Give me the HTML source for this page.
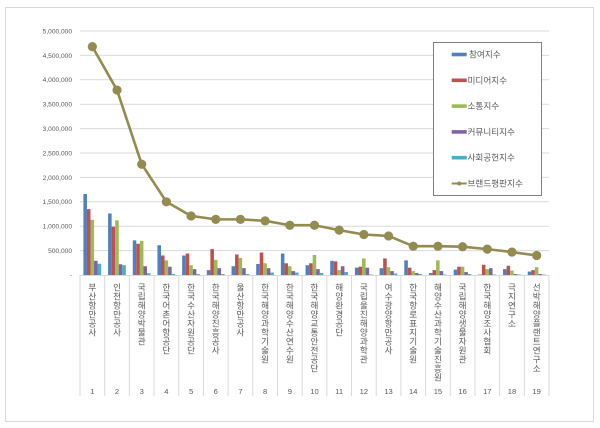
<!DOCTYPE html>
<html><head><meta charset="utf-8"><style>
html,body{margin:0;padding:0;background:#fff;}
svg{display:block;}
text{font-family:"Liberation Sans","Noto Sans CJK KR",sans-serif;fill:#595959;}
</style></head><body>
<svg id="c" width="600" height="428" viewBox="0 0 600 428" xmlns="http://www.w3.org/2000/svg">
<rect x="0" y="0" width="600" height="428" fill="#fff"/>
<rect x="5.5" y="7.5" width="588" height="414" fill="#fff" stroke="#D9D9D9" stroke-width="1"/>
<g id="grid"></g>
<g id="bars"></g>
<g id="xaxis"></g>
<g id="line"></g>
<g id="legend"></g>
</svg>
<script>
(function(){
var NS="http://www.w3.org/2000/svg";
function el(tag,attrs,parent,txt){var e=document.createElementNS(NS,tag);for(var k in attrs)e.setAttribute(k,attrs[k]);if(txt!==undefined)e.textContent=txt;parent.appendChild(e);return e;}
var X0=80,X1=549,Y0=275,PX=24.4/500000;
var N=19,CW=(X1-X0)/N;
function yv(v){return Y0-v*1e6*PX;}
var grid=document.getElementById('grid');
var labs=["-","500,000","1,000,000","1,500,000","2,000,000","2,500,000","3,000,000","3,500,000","4,000,000","4,500,000","5,000,000"];
for(var k=0;k<=10;k++){
  var y=Y0-k*24.4;
  if(k>0) el('line',{x1:X0,x2:X1,y1:y,y2:y,stroke:'#D9D9D9','stroke-width':1},grid);
  el('text',{x:72,y:y+2.4,'text-anchor':'end','font-size':'6.6'},grid,labs[k]);
}
var data=[
 [1.66,1.26,0.71,0.61,0.40,0.10,0.18,0.225,0.44,0.20,0.29,0.15,0.14,0.30,0.04,0.11,0.01,0.12,0.07],
 [1.35,0.99,0.64,0.40,0.44,0.53,0.42,0.46,0.24,0.24,0.28,0.17,0.34,0.15,0.10,0.17,0.21,0.19,0.10],
 [1.13,1.12,0.70,0.30,0.20,0.31,0.35,0.24,0.18,0.41,0.10,0.34,0.16,0.08,0.30,0.17,0.12,0.09,0.16],
 [0.29,0.22,0.18,0.17,0.12,0.14,0.14,0.14,0.08,0.12,0.18,0.15,0.08,0.04,0.08,0.06,0.14,0.02,0.02],
 [0.23,0.20,0.035,0.02,0.02,0.02,0.02,0.05,0.05,0.04,0.06,0.01,0.03,0.02,0.01,0.02,0.01,0.01,0.01]
];
var cols=['#4F81BD','#C0504D','#9BBB59','#8064A2','#4BACC6'];
var bars=document.getElementById('bars');
var BW=3.55;
for(var i=0;i<N;i++){
  var cs=X0+i*CW;
  for(var s=0;s<5;s++){
    var v=data[s][i];var y=yv(v);
    el('rect',{x:(cs+3.4+s*BW).toFixed(2),y:y.toFixed(2),width:BW,height:(Y0-y).toFixed(2),fill:cols[s]},bars);
  }
}
var xa=document.getElementById('xaxis');
el('line',{x1:X0,x2:X1,y1:Y0+0.5,y2:Y0+0.5,stroke:'#D9D9D9','stroke-width':1},xa);
for(var i=0;i<=N;i++){
  var x=X0+i*CW;
  el('line',{x1:x,x2:x,y1:Y0,y2:396,stroke:'#D9D9D9','stroke-width':1},xa);
}
var names=["부산항만공사","인천항만공사","국립해양박물관","한국어촌어항공단","한국수산자원공단","한국해양진흥공사","울산항만공사","한국해양과학기술원","한국해양수산연수원","한국해양교통안전공단","해양환경공단","국립울진해양과학관","여수광양항만공사","한국항로표지기술원","해양수산과학기술진흥원","국립해양생물자원관","한국해양조사협회","극지연구소","선박해양플랜트연구소"];
for(var i=0;i<N;i++){
  var cx=X0+(i+0.5)*CW;
  var t=el('text',{'text-anchor':'middle','font-size':'8.6'},xa);
  var chars=Array.from(names[i]);
  for(var j=0;j<chars.length;j++){
    el('tspan',{x:cx.toFixed(2),y:(290.5+j*9).toFixed(2)},t,chars[j]);
  }
  el('text',{x:cx.toFixed(2),y:394,'text-anchor':'middle','font-size':'7.6'},xa,String(i+1));
}
var line=[4.68,3.79,2.27,1.50,1.21,1.14,1.14,1.11,1.02,1.02,0.92,0.83,0.80,0.59,0.59,0.58,0.53,0.47,0.40];
var lg=document.getElementById('line');
var LC='#938B50';
var pts=line.map(function(v,i){return (X0+(i+0.5)*CW).toFixed(2)+','+yv(v).toFixed(2);}).join(' ');
el('polyline',{points:pts,fill:'none',stroke:LC,'stroke-width':2.6,'stroke-linejoin':'round'},lg);
line.forEach(function(v,i){el('circle',{cx:(X0+(i+0.5)*CW).toFixed(2),cy:yv(v).toFixed(2),r:4.6,fill:LC},lg);});
var leg=document.getElementById('legend');
el('rect',{x:433.5,y:42.5,width:108,height:153,fill:'#fff',stroke:'#7F7F7F','stroke-width':1},leg);
var lnames=["참여지수","미디어지수","소통지수","커뮤니티지수","사회공헌지수","브랜드평판지수"];
for(var k=0;k<6;k++){
  var cy=54.5+k*25.8;
  if(k<5){
    el('rect',{x:451.7,y:cy-1.8,width:15,height:3.6,fill:cols[k]},leg);
  } else {
    el('line',{x1:451.7,x2:466.7,y1:cy,y2:cy,stroke:LC,'stroke-width':2},leg);
    el('circle',{cx:459.2,cy:cy,r:2,fill:LC},leg);
  }
  el('text',{x:k==0?469:467.5,y:cy+3,'font-size':'8.6'},leg,lnames[k]);
}
})();
</script>
</body></html>
